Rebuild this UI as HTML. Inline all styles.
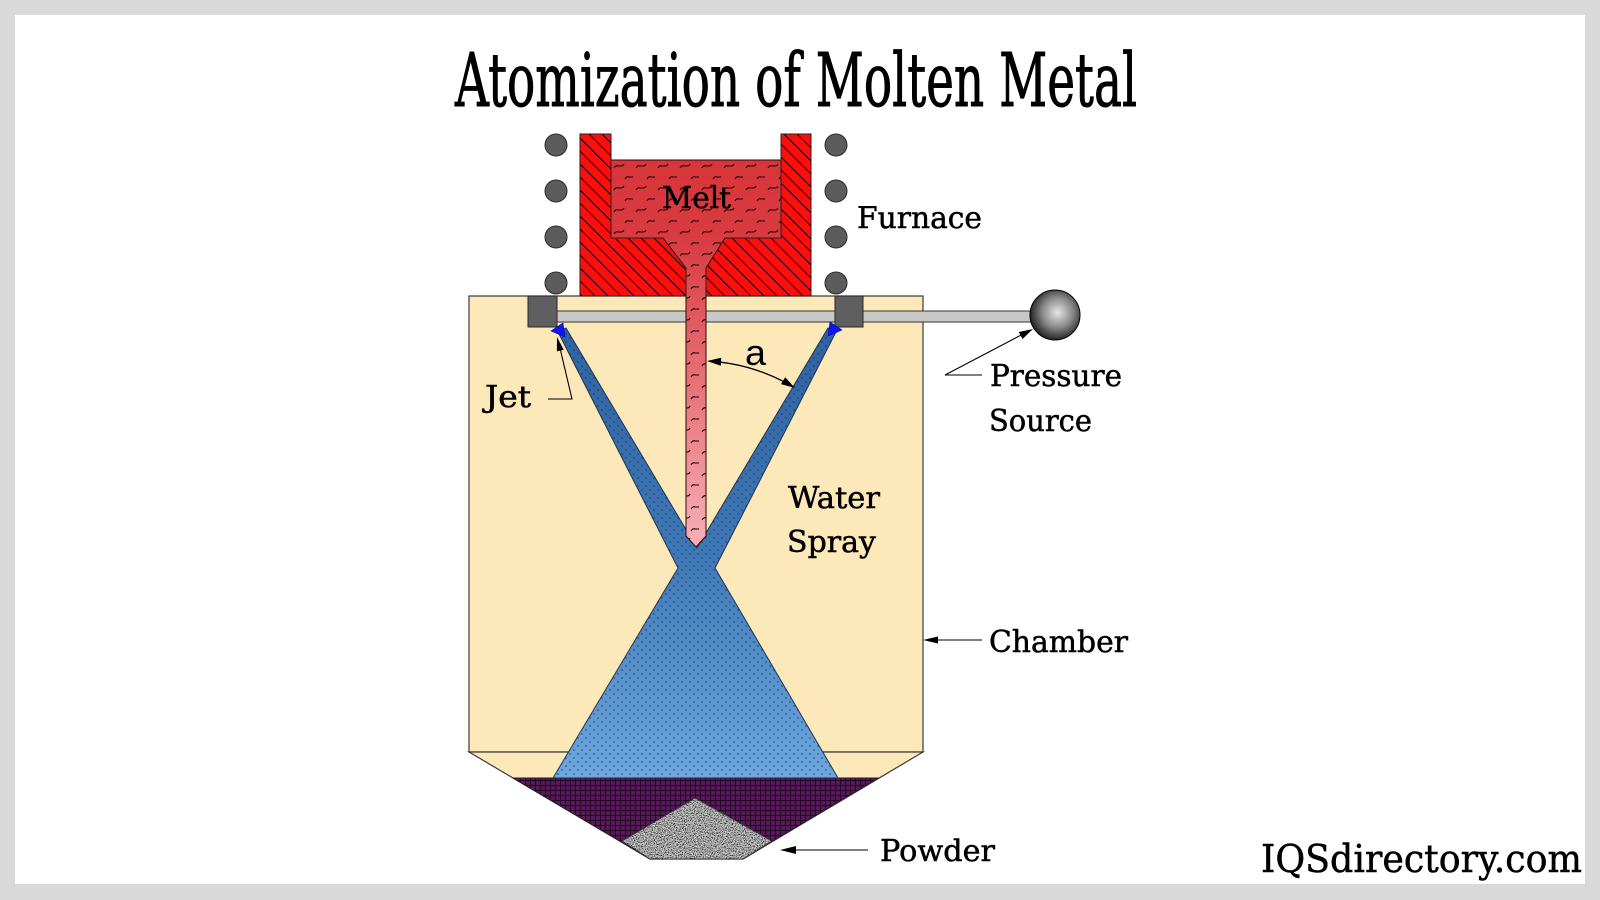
<!DOCTYPE html>
<html>
<head>
<meta charset="utf-8">
<style>
html,body{margin:0;padding:0;background:#d9d9d9;}
svg{display:block;}
</style>
</head>
<body>
<svg width="1600" height="900" viewBox="0 0 1600 900" xmlns="http://www.w3.org/2000/svg">
<defs>
  <pattern id="hatch" patternUnits="userSpaceOnUse" width="13" height="13">
    <rect width="13" height="13" fill="#ff0d0d"/>
    <path d="M-1,-1 L14,14 M-7,6 L7,20 M6,-7 L20,7" stroke="#1a0000" stroke-width="1.1"/>
  </pattern>
  <linearGradient id="meltG" x1="0" y1="160" x2="0" y2="548" gradientUnits="userSpaceOnUse">
    <stop offset="0" stop-color="#d7353a"/>
    <stop offset="0.2" stop-color="#d93b41"/>
    <stop offset="1" stop-color="#f7b0b6"/>
  </linearGradient>
  <pattern id="wave" patternUnits="userSpaceOnUse" x="611" y="160" width="22" height="22">
    <path d="M3,8 q2,-3 4,-2 h3 q2,0 3,-2" stroke="#1a0505" stroke-width="1.1" fill="none"/>
    <path d="M14,19 q2,-3 4,-2 h3 q2,0 3,-2" stroke="#1a0505" stroke-width="1.1" fill="none"/>
  </pattern>
  <linearGradient id="blueG" x1="0" y1="328" x2="0" y2="778" gradientUnits="userSpaceOnUse">
    <stop offset="0" stop-color="#2f62a0"/>
    <stop offset="0.5" stop-color="#3f78b6"/>
    <stop offset="1" stop-color="#6ea7de"/>
  </linearGradient>
  <pattern id="dots" patternUnits="userSpaceOnUse" width="8" height="8">
    <circle cx="2" cy="2" r="0.9" fill="#163560" opacity="0.7"/>
    <circle cx="6" cy="6" r="0.9" fill="#163560" opacity="0.7"/>
  </pattern>
  <pattern id="grid" patternUnits="userSpaceOnUse" width="5" height="5">
    <rect width="5" height="5" fill="#561a58"/>
    <path d="M0,0.5 H5 M0.5,0 V5" stroke="#220422" stroke-width="0.9"/>
  </pattern>
  <radialGradient id="sphereG" cx="0.55" cy="0.45" r="0.6">
    <stop offset="0" stop-color="#e6e6e6"/>
    <stop offset="0.5" stop-color="#8a8a8a"/>
    <stop offset="1" stop-color="#111"/>
  </radialGradient>
  <filter id="speck" x="0" y="0" width="100%" height="100%">
    <feTurbulence type="fractalNoise" baseFrequency="1.1" numOctaves="1" seed="4" result="n"/>
    <feColorMatrix in="n" type="matrix" values="0.4 0.4 0.4 0 0  0.4 0.4 0.4 0 0  0.4 0.4 0.4 0 0  0 0 0 0 1" result="g"/>
    <feComponentTransfer in="g" result="c">
      <feFuncR type="linear" slope="3.2" intercept="-1.55"/>
      <feFuncG type="linear" slope="3.2" intercept="-1.55"/>
      <feFuncB type="linear" slope="3.2" intercept="-1.55"/>
    </feComponentTransfer>
    <feComposite in="c" in2="SourceGraphic" operator="in"/>
  </filter>
</defs>

<!-- frame -->
<rect x="0" y="0" width="1600" height="900" fill="#d9d9d9"/>
<rect x="15" y="15" width="1570" height="869" fill="#ffffff"/>

<!-- title -->
<text x="455" y="106" font-family="DejaVu Serif, Liberation Serif, serif" font-size="74" textLength="682" lengthAdjust="spacingAndGlyphs" fill="#000" stroke="#000" stroke-width="1">Atomization of Molten Metal</text>

<!-- chamber -->
<rect x="469" y="296" width="454" height="456" fill="#fce8b8" stroke="#3a3a3a" stroke-width="1.2"/>
<polygon points="469,752 923,752 743,859 650,859" fill="#fce8b8" stroke="#3a3a3a" stroke-width="1.2"/>

<!-- purple collected -->
<polygon points="513,778 878,778 743,859 650,859" fill="url(#grid)" stroke="#222" stroke-width="1"/>
<!-- powder -->
<polygon points="695,798 772,841 743,859 650,859 622,841" fill="#888"/>
<polygon points="695,798 772,841 743,859 650,859 622,841" fill="#999" filter="url(#speck)"/>
<polygon points="695,798 772,841 743,859 650,859 622,841" fill="none" stroke="#333" stroke-width="1"/>

<!-- water spray -->
<path d="M558,332 L566,328 L697,548 L828,328 L836,332 L715,568 L838,778 L553,778 L678,568 Z" fill="url(#blueG)" stroke="#1d3354" stroke-width="1"/>
<path d="M558,332 L566,328 L697,548 L828,328 L836,332 L715,568 L838,778 L553,778 L678,568 Z" fill="url(#dots)"/>

<!-- pipe -->
<rect x="557" y="311" width="475" height="11" fill="#c8c8c8" stroke="#333" stroke-width="1"/>

<!-- melt + stream -->
<path d="M611,160 L781,160 L781,238 L725,238 L706,268 L706,536 L696,547 L686,536 L686,268 L663,238 L611,238 Z" fill="url(#meltG)" stroke="#2a0a0a" stroke-width="1"/>
<path d="M611,160 L781,160 L781,238 L725,238 L706,268 L706,536 L696,547 L686,536 L686,268 L663,238 L611,238 Z" fill="url(#wave)"/>

<!-- crucible -->
<path d="M580,134 L611,134 L611,238 L663,238 L686,268 L686,296 L580,296 Z" fill="url(#hatch)" stroke="#222" stroke-width="1"/>
<path d="M811,134 L781,134 L781,238 L725,238 L706,268 L706,296 L811,296 Z" fill="url(#hatch)" stroke="#222" stroke-width="1"/>

<!-- blocks -->
<rect x="528" y="296" width="29" height="31" fill="#5f5f5f" stroke="#2a2a2a" stroke-width="1"/>
<rect x="835" y="296" width="28" height="31" fill="#5f5f5f" stroke="#2a2a2a" stroke-width="1"/>

<!-- nozzles -->
<polygon points="551,331 563,323 565,337" fill="#0a14ff" stroke="#000a80" stroke-width="0.6"/>
<polygon points="842,330 830,322 828,336" fill="#0a14ff" stroke="#000a80" stroke-width="0.6"/>

<!-- coils -->
<g fill="#5c5c5c" stroke="#2a2a2a" stroke-width="1">
  <circle cx="556" cy="145" r="11"/>
  <circle cx="556" cy="191" r="11"/>
  <circle cx="556" cy="237" r="11"/>
  <circle cx="556" cy="283" r="11"/>
  <circle cx="836" cy="145" r="11"/>
  <circle cx="836" cy="191" r="11"/>
  <circle cx="836" cy="237" r="11"/>
  <circle cx="836" cy="283" r="11"/>
</g>

<!-- pressure sphere -->
<circle cx="1055" cy="315" r="25" fill="url(#sphereG)" stroke="#000" stroke-width="1"/>

<!-- angle arc -->
<path d="M712,361.3 A188,188 0 0,1 790,385" fill="none" stroke="#000" stroke-width="1.3"/>
<polygon points="707,361 721.2,357.7 720.8,365.7" fill="#000"/>
<polygon points="795,388 781,384.1 785.2,377.3" fill="#000"/>
<text x="745" y="365" font-family="Liberation Sans, sans-serif" font-size="36" textLength="21" lengthAdjust="spacingAndGlyphs" fill="#000">a</text>

<!-- leaders -->
<g stroke="#000" stroke-width="1.1" fill="none">
  <polyline points="548,399 572,399 559,344"/>
  <polyline points="982,375 945,375 1025,333"/>
  <line x1="933" y1="640" x2="982" y2="640"/>
  <line x1="792" y1="850" x2="868" y2="850"/>
</g>
<polygon points="557,337 563.7,349.8 556.9,351.4" fill="#000"/>
<polygon points="1033,329 1022.5,339 1018.8,332" fill="#000"/>
<polygon points="923,640 938,636.5 938,643.5" fill="#000"/>
<polygon points="780,850 796,846 796,854" fill="#000"/>

<!-- labels -->
<g font-family="DejaVu Serif, Liberation Serif, serif" font-size="30" fill="#000" stroke="#000" stroke-width="0.5">
  <text x="662" y="208" textLength="69" lengthAdjust="spacingAndGlyphs">Melt</text>
  <text x="857" y="228" textLength="125" lengthAdjust="spacingAndGlyphs">Furnace</text>
  <text x="485" y="407" textLength="46" lengthAdjust="spacingAndGlyphs">Jet</text>
  <text x="990" y="386" textLength="132" lengthAdjust="spacingAndGlyphs">Pressure</text>
  <text x="989" y="431" textLength="103" lengthAdjust="spacingAndGlyphs">Source</text>
  <text x="788" y="508" textLength="92" lengthAdjust="spacingAndGlyphs">Water</text>
  <text x="787" y="552" textLength="89" lengthAdjust="spacingAndGlyphs">Spray</text>
  <text x="989" y="652" textLength="139" lengthAdjust="spacingAndGlyphs">Chamber</text>
  <text x="880" y="861" textLength="115" lengthAdjust="spacingAndGlyphs">Powder</text>
</g>
<text x="1261" y="872" font-family="DejaVu Serif, Liberation Serif, serif" font-size="38" textLength="321" lengthAdjust="spacingAndGlyphs" fill="#000" stroke="#000" stroke-width="0.5">IQSdirectory.com</text>
</svg>
</body>
</html>
